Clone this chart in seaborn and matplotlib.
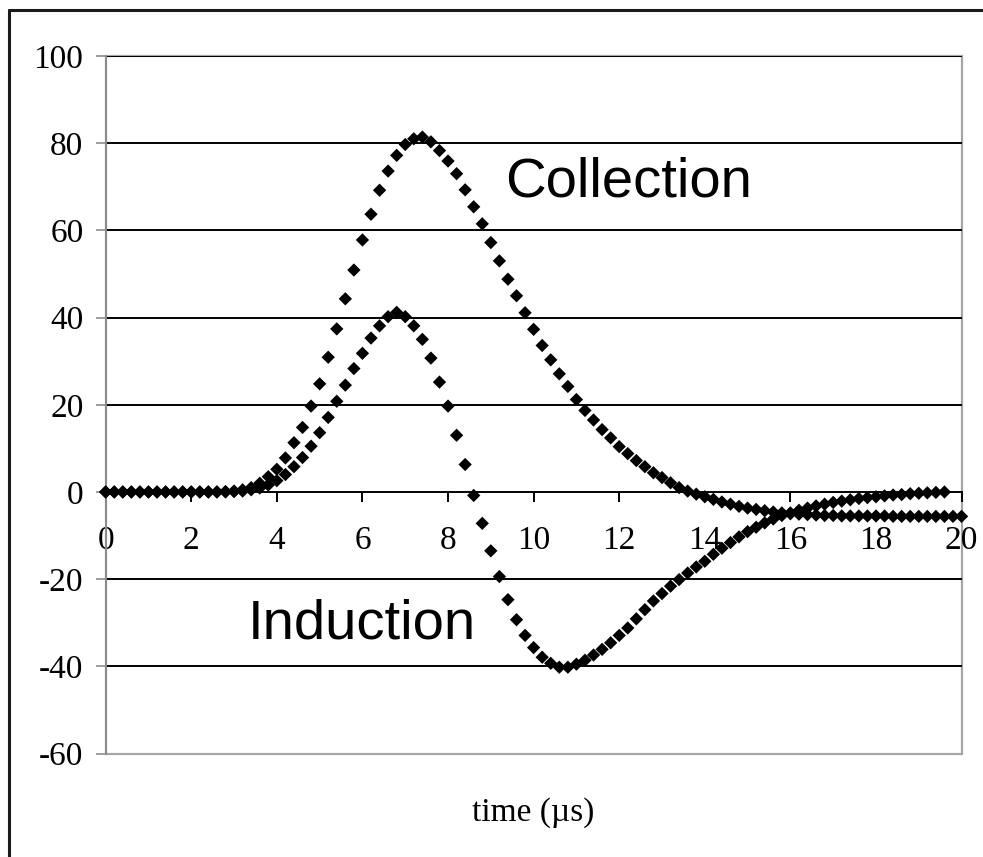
import numpy as np
import pandas as pd
import matplotlib
matplotlib.use("Agg")
import matplotlib.pyplot as plt
from matplotlib.lines import Line2D
from matplotlib.patches import Rectangle
import seaborn as sns

# Sample times (µs), 0.2 µs step
time_collection = [round(0.2 * i, 1) for i in range(101)]
time_induction = [round(0.2 * i, 1) for i in range(99)]

collection = [
    0.0, 0.0, 0.0, 0.0, 0.0, 0.0, 0.0, 0.0, 0.0, 0.0,      # 0.0 - 1.8
    0.0, 0.0, 0.0, 0.0, 0.1, 0.2, 0.5, 1.0, 2.0, 3.5,      # 2.0 - 3.8
    5.2, 7.8, 11.3, 14.8, 19.7, 24.8, 30.9, 37.4, 44.3, 50.9,   # 4.0 - 5.8
    57.8, 63.7, 69.2, 73.6, 77.2, 79.7, 81.0, 81.4, 80.3, 78.3,  # 6.0 - 7.8
    75.9, 73.0, 69.3, 65.4, 61.5, 57.2, 53.0, 48.8, 45.0, 41.1,  # 8.0 - 9.8
    37.3, 33.6, 30.3, 27.1, 24.2, 21.2, 18.7, 16.5, 14.3, 12.4,  # 10.0 - 11.8
    10.4, 8.8, 7.2, 5.8, 4.4, 3.3, 2.1, 1.0, 0.2, -0.5,          # 12.0 - 13.8
    -1.1, -1.7, -2.3, -2.8, -3.3, -3.7, -4.0, -4.3, -4.6, -4.8,  # 14.0 - 15.8
    -5.0, -5.1, -5.2, -5.3, -5.4, -5.4, -5.5, -5.5, -5.5, -5.5,  # 16.0 - 17.8
    -5.5, -5.5, -5.6, -5.6, -5.6, -5.6, -5.6, -5.6, -5.6, -5.6,  # 18.0 - 19.8
    -5.6,                                                         # 20.0
]

induction = [
    0.0, 0.0, 0.0, 0.0, 0.0, 0.0, 0.0, 0.0, 0.0, 0.0,      # 0.0 - 1.8
    0.0, 0.0, 0.0, 0.0, 0.0, 0.1, 0.2, 0.5, 0.9, 1.6,      # 2.0 - 3.8
    2.6, 4.0, 5.8, 7.9, 10.5, 13.6, 17.1, 20.8, 24.5, 28.3,      # 4.0 - 5.8
    31.8, 35.3, 38.1, 40.2, 41.2, 40.2, 38.1, 35.0, 30.7, 25.2,  # 6.0 - 7.8
    19.7, 13.0, 6.3, -0.8, -7.2, -13.5, -19.4, -24.7, -29.3, -32.9,   # 8.0 - 9.8
    -35.7, -37.9, -39.3, -40.2, -40.2, -39.5, -38.6, -37.4, -36.1, -34.6,  # 10.0 - 11.8
    -32.9, -31.2, -29.1, -27.0, -25.0, -23.3, -21.6, -20.1, -18.6, -17.2,  # 12.0 - 13.8
    -15.9, -14.3, -12.9, -11.6, -10.3, -9.1, -8.1, -7.1, -6.2, -5.4,       # 14.0 - 15.8
    -4.8, -4.2, -3.7, -3.2, -2.8, -2.4, -2.1, -1.8, -1.5, -1.3,            # 16.0 - 17.8
    -1.1, -0.9, -0.7, -0.6, -0.4, -0.3, -0.2, -0.1, 0.0,                   # 18.0 - 19.6
]

x_ticks = [0, 2, 4, 6, 8, 10, 12, 14, 16, 18, 20]
y_ticks = [-60, -40, -20, 0, 20, 40, 60, 80, 100]

df = pd.concat([
    pd.DataFrame({"time": time_collection, "signal": collection, "series": "Collection"}),
    pd.DataFrame({"time": time_induction, "signal": induction, "series": "Induction"}),
])

sns.set_theme(style="white")
plt.rcParams["font.family"] = ["Liberation Serif", "DejaVu Serif"]

fig = plt.figure(figsize=(9.83, 8.57), dpi=100)
ax = fig.add_axes([0.1075, 0.1207, 0.8707, 0.8140])

# horizontal grid
for yv in y_ticks:
    if yv in (0, -60):
        continue
    ax.axhline(yv, color="black", lw=1.4, zorder=1)

sns.scatterplot(data=df, x="time", y="signal", hue="series",
                palette={"Collection": "black", "Induction": "black"},
                marker="D", s=46, edgecolor="none", linewidth=0,
                legend=False, ax=ax, zorder=3, clip_on=False)

ax.set_xlim(0, 20)
ax.set_ylim(-60, 100)
ax.set_xticks(x_ticks)
ax.set_yticks(y_ticks)
ax.set_xticklabels([str(v) for v in x_ticks])
ax.set_yticklabels([str(v) for v in y_ticks])

# x axis crosses at zero
for side in ("top", "right"):
    ax.spines[side].set_visible(False)
ax.spines["bottom"].set_position(("data", 0))
ax.spines["bottom"].set_color("black")
ax.spines["bottom"].set_linewidth(1.4)
ax.spines["bottom"].set_zorder(2)
ax.spines["left"].set_color("#8c8c8c")
ax.spines["left"].set_linewidth(1.4)

# plot area frame
ax.add_patch(Rectangle((0, 0), 1, 1, transform=ax.transAxes, fill=False,
                       edgecolor="#a6a6a6", lw=1.6, zorder=0.5, clip_on=False))

ax.tick_params(axis="x", direction="out", length=7, width=1.4, color="black",
               labelsize=24, pad=17, bottom=True)
ax.tick_params(axis="y", direction="out", length=7, width=1.2, color="#8c8c8c",
               labelsize=24, pad=9, left=True)
for lab in ax.get_xticklabels() + ax.get_yticklabels():
    lab.set_color("black")

ax.set_xlabel("time (µs)", fontsize=24, color="black", labelpad=0)
ax.xaxis.set_label_coords(0.5, -0.084)
ax.xaxis.label.set_verticalalignment("center")
ax.set_ylabel("")

sans = ["Liberation Sans", "DejaVu Sans"]
ax.text(9.33, 71, "Collection", fontsize=40.5, family=sans, ha="left", va="center", color="black")
ax.text(3.33, -30.5, "Induction", fontsize=40.5, family=sans, ha="left", va="center", color="black")

# outer chart border
fig.add_artist(Line2D([9 / 983, 9 / 983], [-0.1, 1 - 10 / 857], transform=fig.transFigure,
                      color="#1a1a1a", lw=2.2))
fig.add_artist(Line2D([9 / 983, 1.1], [1 - 10 / 857, 1 - 10 / 857], transform=fig.transFigure,
                      color="#1a1a1a", lw=2.2))

fig.savefig("out.png", dpi=100, facecolor="white")
